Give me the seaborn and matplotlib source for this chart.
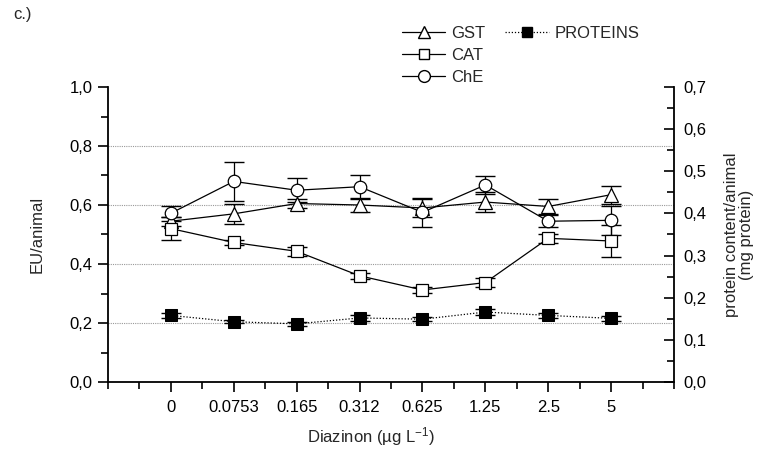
import numpy as np
import pandas as pd
import matplotlib
matplotlib.use("Agg")
import matplotlib.pyplot as plt
from matplotlib.lines import Line2D
from matplotlib.ticker import FuncFormatter, MultipleLocator
import seaborn as sns

concentrations = ["0", "0.0753", "0.165", "0.312", "0.625", "1.25", "2.5", "5"]
gst = [0.545, 0.570, 0.605, 0.600, 0.590, 0.610, 0.595, 0.635]
gst_err = [0.015, 0.035, 0.015, 0.025, 0.030, 0.035, 0.025, 0.030]
cat = [0.520, 0.473, 0.443, 0.360, 0.312, 0.337, 0.487, 0.478]
cat_err = [0.040, 0.010, 0.015, 0.010, 0.010, 0.015, 0.015, 0.055]
che = [0.572, 0.680, 0.650, 0.662, 0.575, 0.668, 0.545, 0.548]
che_err = [0.025, 0.065, 0.040, 0.040, 0.050, 0.030, 0.020, 0.050]
proteins = [0.158, 0.143, 0.138, 0.152, 0.149, 0.166, 0.158, 0.151]
proteins_err = [0.005, 0.004, 0.005, 0.007, 0.005, 0.007, 0.006, 0.006]

FS = 12
sns.set_theme(style="white")
plt.rcParams["font.family"] = ["Liberation Sans", "DejaVu Sans"]
plt.rcParams["font.size"] = FS
plt.rcParams["mathtext.fontset"] = "custom"
plt.rcParams["mathtext.rm"] = "Liberation Sans"
plt.rcParams["mathtext.it"] = "Liberation Sans:italic"
plt.rcParams["mathtext.bf"] = "Liberation Sans:bold"

W, H = 757, 450
fig = plt.figure(figsize=(W/100, H/100), dpi=100)
ax_l, ax_r, ax_b, ax_t = 108, 674, 382, 87
ax = fig.add_axes([ax_l/W, 1-ax_b/H, (ax_r-ax_l)/W, (ax_b-ax_t)/H])
ax2 = ax.twinx()

x = np.arange(1, len(concentrations) + 1)
df = pd.DataFrame({"x": x, "GST": gst, "CAT": cat, "ChE": che, "PROT": proteins})

for y in [0.2, 0.4, 0.6, 0.8]:
    ax.axhline(y, color="#999999", lw=0.8, ls=(0, (1, 1)), zorder=0)

series = [
    ("GST", gst_err, "^", 9.5),
    ("CAT", cat_err, "s", 8),
    ("ChE", che_err, "o", 9),
]
for name, err, mk, ms in series:
    ax.errorbar(df["x"], df[name], yerr=err, fmt="none", ecolor="black",
                elinewidth=0.9, capsize=7, capthick=1.0, zorder=2)
    sns.lineplot(data=df, x="x", y=name, ax=ax, color="black", lw=0.9,
                 marker=mk, markersize=ms, markerfacecolor="white",
                 markeredgecolor="black", markeredgewidth=0.9, zorder=3)

ax2.errorbar(df["x"], df["PROT"], yerr=proteins_err, fmt="none", ecolor="black",
             elinewidth=0.9, capsize=7, capthick=1.0, zorder=2)
sns.lineplot(data=df, x="x", y="PROT", ax=ax2, color="black", lw=0.9,
             ls=(0, (1, 1.5)), marker="s", markersize=8,
             markerfacecolor="black", markeredgecolor="black", zorder=3)

comma = FuncFormatter(lambda v, p: f"{v:.1f}".replace(".", ","))

ax.set_xlim(0, 9)
ax.set_ylim(0, 1.0)
ax2.set_ylim(0, 0.7)
ax.set_xticks(x)
ax.set_xticklabels(concentrations)
ax.xaxis.set_minor_locator(MultipleLocator(0.5))
ax.yaxis.set_major_locator(MultipleLocator(0.2))
ax.yaxis.set_minor_locator(MultipleLocator(0.1))
ax.yaxis.set_major_formatter(comma)
ax2.yaxis.set_major_locator(MultipleLocator(0.1))
ax2.yaxis.set_minor_locator(MultipleLocator(0.05))
ax2.yaxis.set_major_formatter(comma)

for a in (ax, ax2):
    a.spines["top"].set_visible(False)
    for s in ["left", "right", "bottom"]:
        a.spines[s].set_linewidth(1.3)
        a.spines[s].set_color("black")
ax.spines["right"].set_visible(False)
ax2.spines["left"].set_visible(False)
ax2.spines["bottom"].set_visible(False)

ax.tick_params(axis="both", which="major", direction="out", length=7, width=1.2,
               colors="black", labelsize=FS, bottom=True, left=True)
ax.tick_params(axis="both", which="minor", direction="out", length=5, width=1.2,
               colors="black", bottom=True, left=True)
ax.tick_params(axis="x", which="major", pad=6)
ax.tick_params(axis="y", which="major", pad=4)
ax2.tick_params(axis="y", which="major", direction="in", length=7, width=1.2,
                colors="black", labelsize=FS, right=True, pad=7)
ax2.tick_params(axis="y", which="minor", direction="in", length=5, width=1.2,
                colors="black", right=True)

pw, ph = ax_r - ax_l, ax_b - ax_t
ax.set_xlabel("Diazinon (µg L$^{\\mathrm{-1}}$)", fontsize=FS)
ax.xaxis.label.set_va("center")
ax.xaxis.set_label_coords((371 - ax_l)/pw, (ax_b - 437)/ph)
ax.set_ylabel("EU/animal", fontsize=FS)
ax.yaxis.label.set_va("center")
ax.yaxis.set_label_coords((37 - ax_l)/pw, 0.5)
ax2.set_ylabel("protein content/animal\n(mg protein)", fontsize=FS,
               rotation=90, linespacing=1.0)
ax2.yaxis.label.set_va("center")
ax2.yaxis.set_label_coords((739 - ax_l)/pw, 0.5)

fig.text(22/W, 1-15/H, "c.)", fontsize=FS, ha="center", va="center")

h_gst = Line2D([], [], color="black", lw=0.9, marker="^", markersize=9,
               markerfacecolor="white", markeredgecolor="black")
h_cat = Line2D([], [], color="black", lw=0.9, marker="s", markersize=7.5,
               markerfacecolor="white", markeredgecolor="black")
h_che = Line2D([], [], color="black", lw=0.9, marker="o", markersize=8.5,
               markerfacecolor="white", markeredgecolor="black")
h_prot = Line2D([], [], color="black", lw=0.9, ls=(0, (1, 1.5)), marker="s",
                markersize=7.5, markerfacecolor="black", markeredgecolor="black")
blank = Line2D([], [], color="none")
fig.legend([h_gst, h_cat, h_che, h_prot, blank, blank],
           ["GST", "CAT", "ChE", "PROTEINS", "", ""],
           ncol=2, loc="upper left", bbox_to_anchor=(402/W, 1-26/H),
           frameon=False, fontsize=FS, handlelength=2.6, handletextpad=0.35,
           columnspacing=1.2, labelspacing=0.42, borderpad=0, borderaxespad=0)

ax.set_facecolor("white")
ax2.patch.set_visible(False)
fig.savefig("out.png", dpi=100, facecolor="white")
